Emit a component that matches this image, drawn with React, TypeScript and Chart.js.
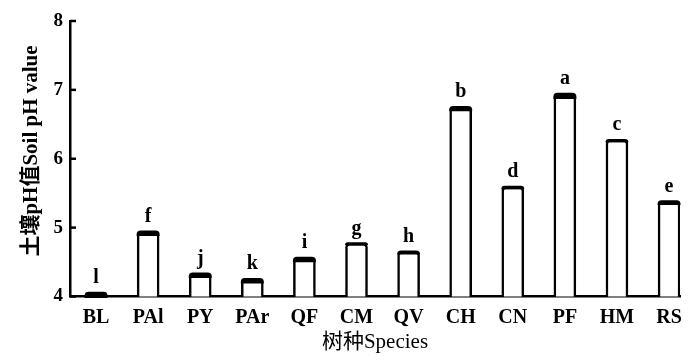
import React, { useEffect, useRef } from "react";
import { Chart, registerables } from "chart.js";

Chart.register(...registerables);

const species = ["BL", "PAl", "PY", "PAr", "QF", "CM", "QV", "CH", "CN", "PF", "HM", "RS"];
const phValues = [4.05, 4.94, 4.33, 4.25, 4.56, 4.77, 4.65, 6.75, 5.59, 6.94, 6.27, 5.38];
const sdValues = [0.06, 0.05, 0.05, 0.05, 0.05, 0.01, 0.03, 0.05, 0.02, 0.06, 0.02, 0.04];
const letters = ["l", "f", "j", "k", "i", "g", "h", "b", "d", "a", "c", "e"];
const yTickValues = [4, 5, 6, 7, 8];
const yTitle = "土壤pH值Soil pH value";
const xTitle = "树种Species";

const SERIF = "'Liberation Serif', 'Times New Roman', 'Noto Sans CJK SC', serif";

const overlayPlugin = {
  id: "overlay",
  afterDatasetsDraw(chart: any) {
    const ctx = chart.ctx;
    const y = chart.scales.y;
    const meta = chart.getDatasetMeta(0);
    const pxPerUnit = y.getPixelForValue(4) - y.getPixelForValue(5);
    ctx.save();
    meta.data.forEach((bar: any, i: number) => {
      const w = bar.width;
      const left = bar.x - w / 2;
      const h = sdValues[i] * pxPerUnit + 2;
      ctx.fillStyle = "#000";
      ctx.beginPath();
      if (ctx.roundRect) ctx.roundRect(left - 0.5, bar.y - 1.2, w + 1, h, [4, 4, 0, 0]);
      else ctx.rect(left - 0.5, bar.y - 1.2, w + 1, h);
      ctx.fill();
      ctx.font = `bold 20px ${SERIF}`;
      ctx.textAlign = "center";
      ctx.textBaseline = "bottom";
      ctx.fillText(letters[i], bar.x, bar.y - 5);
    });
    // inward y ticks
    ctx.strokeStyle = "#000";
    ctx.lineWidth = 2.5;
    const x0 = chart.chartArea.left;
    yTickValues.forEach((v) => {
      const py = y.getPixelForValue(v);
      ctx.beginPath();
      ctx.moveTo(x0, py);
      ctx.lineTo(x0 + 6, py);
      ctx.stroke();
    });
    // y title
    ctx.translate(32, 151);
    ctx.rotate(-Math.PI / 2);
    ctx.font = `bold 21px ${SERIF}`;
    ctx.textAlign = "center";
    ctx.textBaseline = "middle";
    ctx.fillText(yTitle, 0, 0);
    ctx.restore();
  },
};

export default function App() {
  const ref = useRef<HTMLCanvasElement | null>(null);
  useEffect(() => {
    if (!ref.current) return;
    const chart = new Chart(ref.current, {
      type: "bar",
      data: {
        datasets: [
          {
            data: phValues.map((v, i) => ({ x: i, y: v })),
            backgroundColor: "#fff",
            borderColor: "#000",
            borderWidth: 2.5,
            borderSkipped: "bottom",
            borderRadius: { topLeft: 4, topRight: 4, bottomLeft: 0, bottomRight: 0 },
            barThickness: 22,
          },
        ],
      },
      options: {
        animation: false,
        responsive: false,
        maintainAspectRatio: false,
        layout: { padding: { top: 21, right: 20, left: 0, bottom: 0 } },
        plugins: { legend: { display: false }, tooltip: { enabled: false } },
        scales: {
          x: {
            type: "linear",
            offset: false,
            min: -0.5,
            max: 11.21,
            grid: { display: false, drawTicks: false },
            border: { display: true, color: "#000", width: 2.5 },
            ticks: {
              stepSize: 1,
              includeBounds: false,
              autoSkip: false,
              maxRotation: 0,
              padding: 9,
              color: "#000",
              font: { family: SERIF, size: 20, weight: "bold" },
              callback: (v: any) => (Number.isInteger(v) && species[v] !== undefined ? species[v] : ""),
            },
            title: {
              display: true,
              text: xTitle,
              color: "#000",
              font: { family: SERIF, size: 21, weight: "normal" },
              padding: { top: 0, bottom: 5 },
            },
            afterFit: (s: any) => {
              s.height = 63.5;
            },
          },
          y: {
            min: 4,
            max: 8,
            grid: { display: false, drawTicks: false },
            border: { display: true, color: "#000", width: 2.5 },
            ticks: {
              stepSize: 1,
              padding: 7,
              color: "#000",
              font: { family: SERIF, size: 19, weight: "bold" },
            },
            afterFit: (s: any) => {
              s.width = 70;
            },
          },
        },
      },
      plugins: [overlayPlugin],
    });
    return () => chart.destroy();
  }, []);
  return (
    <div style={{ position: "absolute", left: 0, top: 0, width: 700, height: 360, background: "#fff" }}>
      <canvas ref={ref} width={700} height={360} style={{ width: 700, height: 360 }} />
    </div>
  );
}
